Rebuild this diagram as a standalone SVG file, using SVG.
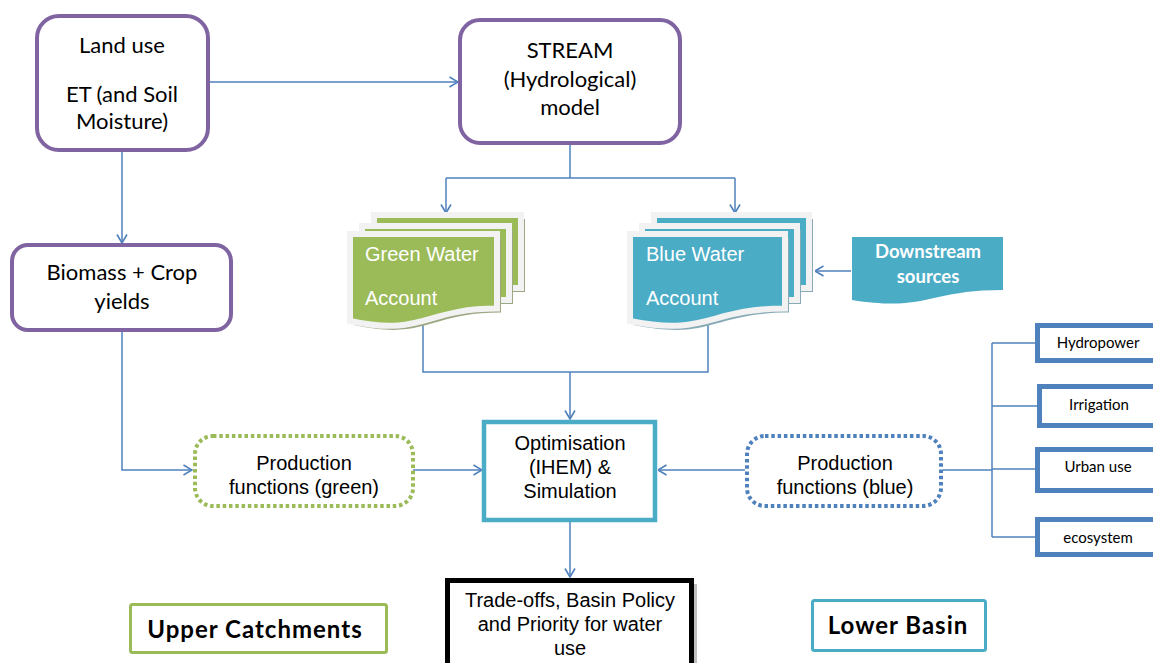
<svg xmlns="http://www.w3.org/2000/svg" width="1153" height="663" viewBox="0 0 1153 663">
  <defs>
    <marker id="arrow" viewBox="0 0 10 12" refX="9.5" refY="6" markerWidth="10" markerHeight="12" markerUnits="userSpaceOnUse" orient="auto">
      <path d="M1,1 L9.5,6 L1,11" fill="none" stroke="#4F81BD" stroke-width="1.6"/>
    </marker>
    <style>
      .cal { font-family: Lato, "Liberation Sans", sans-serif; fill: #000; font-size: 22px; }
      .ari { font-family: "Liberation Sans", Arial, sans-serif; fill: #000; font-size: 20px; }
      .mid { text-anchor: middle; }
      .purple { fill: #fff; stroke: #8064A2; stroke-width: 4; }
      .conn { fill: none; stroke: #4F81BD; stroke-width: 1.5; }
      .page-g { fill: #9BBB59; stroke: #F2F2F2; stroke-width: 6; }
      .page-b { fill: #4BACC6; stroke: #F2F2F2; stroke-width: 6; }
      .shadow-g { fill: #9CA783; }
      .shadow-b { fill: #87AAB7; }
      .pagetxt { font-family: "Liberation Sans", Arial, sans-serif; font-size: 20px; fill: #fff; }
      .use { fill: #fff; stroke: #4F81BD; stroke-width: 5; }
      .usetxt { font-family: Lato, "Liberation Sans", sans-serif; font-size: 15px; fill: #000; text-anchor: middle; }
      .region { font-family: Lato, "Liberation Sans", sans-serif; font-size: 24px; font-weight: bold; letter-spacing: 1px; fill: #000; text-anchor: middle; }
      .ds { font-family: Lato, "Liberation Sans", sans-serif; font-size: 18.5px; font-weight: bold; fill: #fff; text-anchor: middle; }
      .dotted { fill: #fff; stroke-width: 4; stroke-dasharray: 3.5 2.8; }
    </style>
  </defs>

  <!-- connectors -->
  <g id="connectors">
    <path class="conn" d="M208,82 H458" marker-end="url(#arrow)"/>
    <path class="conn" d="M122,152 V243" marker-end="url(#arrow)"/>
    <path class="conn" d="M570,145 V178 M446,178 H735"/>
    <path class="conn" d="M446,178 V213" marker-end="url(#arrow)"/>
    <path class="conn" d="M735,178 V213" marker-end="url(#arrow)"/>
    <path class="conn" d="M851,271 H815" marker-end="url(#arrow)"/>
    <path class="conn" d="M423,318 V372 H708 V316"/>
    <path class="conn" d="M570,372 V419" marker-end="url(#arrow)"/>
    <path class="conn" d="M122,332 V470 H192" marker-end="url(#arrow)"/>
    <path class="conn" d="M413,470 H482" marker-end="url(#arrow)"/>
    <path class="conn" d="M745,470 H658" marker-end="url(#arrow)"/>
    <path class="conn" d="M570,522 V577" marker-end="url(#arrow)"/>
    <path class="conn" d="M943,470 H992 M992,343 V537 M992,343 H1035 M992,406 H1037 M992,469 H1035 M992,537 H1035"/>
  </g>

  <!-- Land use / ET node -->
  <g id="land-use">
    <rect class="purple" x="37" y="16" width="171" height="134" rx="22"/>
    <text class="cal mid" x="122" y="53">Land use</text>
    <text class="cal mid" x="122" y="102">ET (and Soil</text>
    <text class="cal mid" x="122" y="129">Moisture)</text>
  </g>

  <!-- STREAM model node -->
  <g id="stream">
    <rect class="purple" x="460" y="20" width="220" height="123" rx="20"/>
    <text class="cal mid" x="570" y="58">STREAM</text>
    <text class="cal mid" x="570" y="87">(Hydrological)</text>
    <text class="cal mid" x="570" y="115">model</text>
  </g>

  <!-- Biomass node -->
  <g id="biomass">
    <rect class="purple" x="12" y="245" width="219" height="85" rx="16"/>
    <text class="cal mid" x="122" y="280">Biomass + Crop</text>
    <text class="cal mid" x="122" y="309">yields</text>
  </g>

  <!-- Green water account: stacked documents -->
  <g id="green-water">
    <rect class="shadow-g" x="378" y="219" width="147" height="73"/>
    <rect class="page-g" x="374" y="215" width="147" height="73"/>
    <rect class="shadow-g" x="366" y="230" width="147" height="74"/>
    <rect class="page-g" x="362" y="226" width="147" height="74"/>
    <path class="shadow-g" d="M354,238 H501 V312.6 C427.5,312.6 427.5,341 354,325 Z"/>
    <path class="page-g" d="M350,234 H497 V308.6 C423.5,308.6 423.5,337 350,321 Z"/>
    <text class="pagetxt" x="365" y="261">Green Water</text>
    <text class="pagetxt" x="365" y="305">Account</text>
  </g>

  <!-- Blue water account: stacked documents -->
  <g id="blue-water">
    <rect class="shadow-b" x="658" y="219" width="155" height="73"/>
    <rect class="page-b" x="654" y="215" width="155" height="73"/>
    <rect class="shadow-b" x="646" y="230" width="155" height="74"/>
    <rect class="page-b" x="642" y="226" width="155" height="74"/>
    <path class="shadow-b" d="M634,238 H789 V312.6 C711.5,312.6 711.5,341 634,325 Z"/>
    <path class="page-b" d="M630,234 H785 V308.6 C707.5,308.6 707.5,337 630,321 Z"/>
    <text class="pagetxt" x="646" y="261">Blue Water</text>
    <text class="pagetxt" x="646" y="305">Account</text>
  </g>

  <!-- Downstream sources -->
  <g id="downstream">
    <path d="M852,237 H1003 V290 C927.5,290 927.5,312 852,300 Z" fill="#4BACC6"/>
    <text class="ds" x="928" y="258">Downstream</text>
    <text class="ds" x="928" y="283">sources</text>
  </g>

  <!-- Production functions (green) -->
  <g id="prod-green">
    <rect class="dotted" x="195" y="436" width="218" height="70" rx="18" stroke="#9BBB59"/>
    <text class="ari mid" x="304" y="470">Production</text>
    <text class="ari mid" x="304" y="494">functions (green)</text>
  </g>

  <!-- Optimisation node -->
  <g id="optimisation">
    <rect x="484" y="422" width="171" height="98" fill="#fff" stroke="#4BACC6" stroke-width="4.5"/>
    <text class="ari mid" x="570" y="450">Optimisation</text>
    <text class="ari mid" x="570" y="474">(IHEM) &amp;</text>
    <text class="ari mid" x="570" y="498">Simulation</text>
  </g>

  <!-- Production functions (blue) -->
  <g id="prod-blue">
    <rect class="dotted" x="747" y="436" width="194" height="70" rx="18" stroke="#4F81BD"/>
    <text class="ari mid" x="845" y="470">Production</text>
    <text class="ari mid" x="845" y="494">functions (blue)</text>
  </g>

  <!-- Water uses -->
  <g id="hydropower">
    <rect class="use" x="1037.5" y="325.5" width="130" height="35"/>
    <text class="usetxt" x="1098" y="348">Hydropower</text>
  </g>
  <g id="irrigation">
    <rect class="use" x="1039.5" y="386.5" width="130" height="39"/>
    <text class="usetxt" x="1099" y="410">Irrigation</text>
  </g>
  <g id="urban-use">
    <rect class="use" x="1037.5" y="449.5" width="130" height="41"/>
    <text class="usetxt" x="1098" y="472">Urban use</text>
  </g>
  <g id="ecosystem">
    <rect class="use" x="1037.5" y="519.5" width="130" height="35"/>
    <text class="usetxt" x="1098" y="543">ecosystem</text>
  </g>

  <!-- Trade-offs node -->
  <g id="trade-offs">
    <rect x="451" y="584" width="246" height="90" fill="#BFBFBF"/>
    <rect x="447.5" y="580.5" width="244" height="90" fill="#fff" stroke="#000" stroke-width="5"/>
    <text class="ari mid" x="570" y="607">Trade-offs, Basin Policy</text>
    <text class="ari mid" x="570" y="631">and Priority for water</text>
    <text class="ari mid" x="570" y="655">use</text>
  </g>

  <!-- Region labels -->
  <g id="upper-catchments">
    <rect x="130.5" y="604.5" width="256" height="48" rx="2" fill="#fff" stroke="#9BBB59" stroke-width="3"/>
    <text class="region" x="255" y="638">Upper Catchments</text>
  </g>
  <g id="lower-basin">
    <rect x="812.5" y="600.5" width="173" height="50" rx="2" fill="#fff" stroke="#4BACC6" stroke-width="3"/>
    <text class="region" x="898" y="634">Lower Basin</text>
  </g>
</svg>
